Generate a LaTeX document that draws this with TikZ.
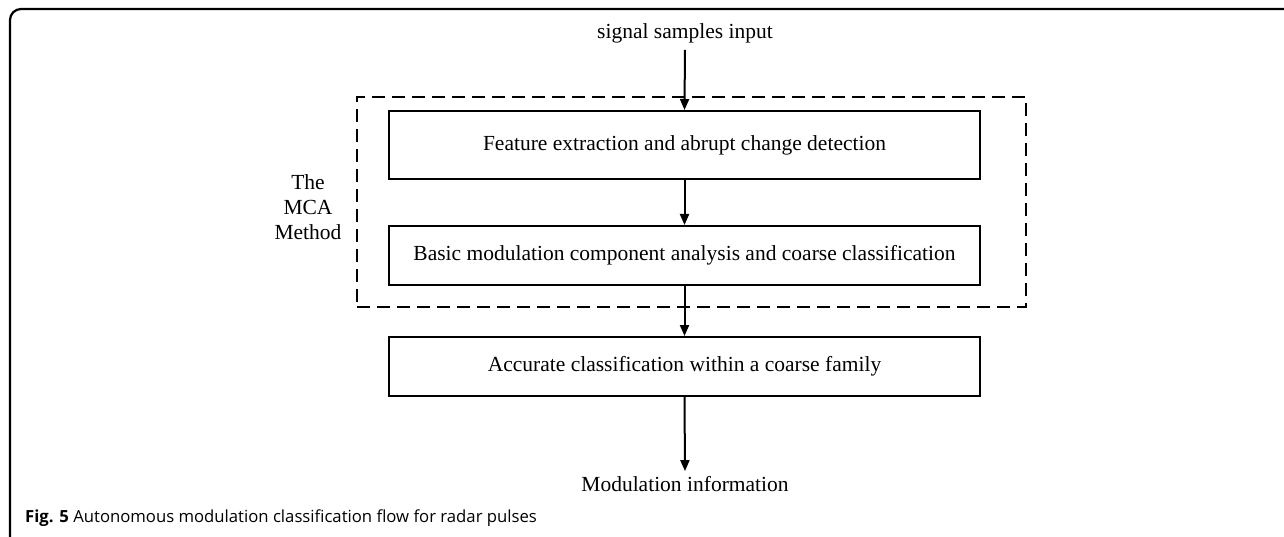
\documentclass[tikz,border=0pt]{standalone}
\usepackage{fontspec}
\setmainfont{Liberation Serif}
\newfontfamily\capfont{Open Sans}
\usetikzlibrary{arrows.meta}
\begin{document}
\begin{tikzpicture}[x=1pt,y=-1pt,
  flowbox/.style={draw, line width=2pt, minimum width=591pt, inner sep=0pt, font=\fontsize{21.5}{25}\selectfont},
  lbl/.style={font=\fontsize{21.5}{25}\selectfont, inner sep=3pt},
  arr/.style={line width=2pt, -{Triangle[length=11pt,width=9pt]}},
  dashbox/.style={draw, line width=2pt, dash pattern=on 13pt off 7pt, minimum width=669pt, minimum height=210pt, inner sep=0pt}
]
\useasboundingbox (0,0) rectangle (1284,537);
\clip (0,0) rectangle (1284,537);
\fill[white] (0,0) rectangle (1284,537);
% outer frame
\draw[line width=2.2pt, rounded corners=11pt] (10,560) -- (10,9) -- (1300,9);
% dashed region
\node[dashbox] (mca) at (691.5,202) {};
% boxes
\node[flowbox, minimum height=68pt] (b1) at (684.5,145) {Feature extraction and abrupt change detection};
\node[flowbox, minimum height=59pt] (b2) at (684.5,255.5) {Basic modulation component analysis and coarse classification};
\node[flowbox, minimum height=59pt] (b3) at (684.5,366.5) {Accurate classification within a coarse family};
% labels
\node[lbl] (in) at (685,33) {signal samples input};
\node[lbl] (out) at (685,484) {Modulation information};
\node[lbl, align=center] (mcalbl) at (308,207) {The\\MCA\\Method};
% arrows
\draw[arr, shorten <=4pt] (in.south) -- (b1.north);
\draw[arr] (b1.south) -- (b2.north);
\draw[arr] (b2.south) -- (b3.north);
\draw[arr, shorten >=2pt] (b3.south) -- (out.north);
% caption
\node[anchor=west, inner sep=0pt, font=\capfont\fontsize{16.7}{20}\selectfont] (cap) at (25,518) {\textbf{Fig. 5} Autonomous modulation classification flow for radar pulses};
\end{tikzpicture}
\end{document}
